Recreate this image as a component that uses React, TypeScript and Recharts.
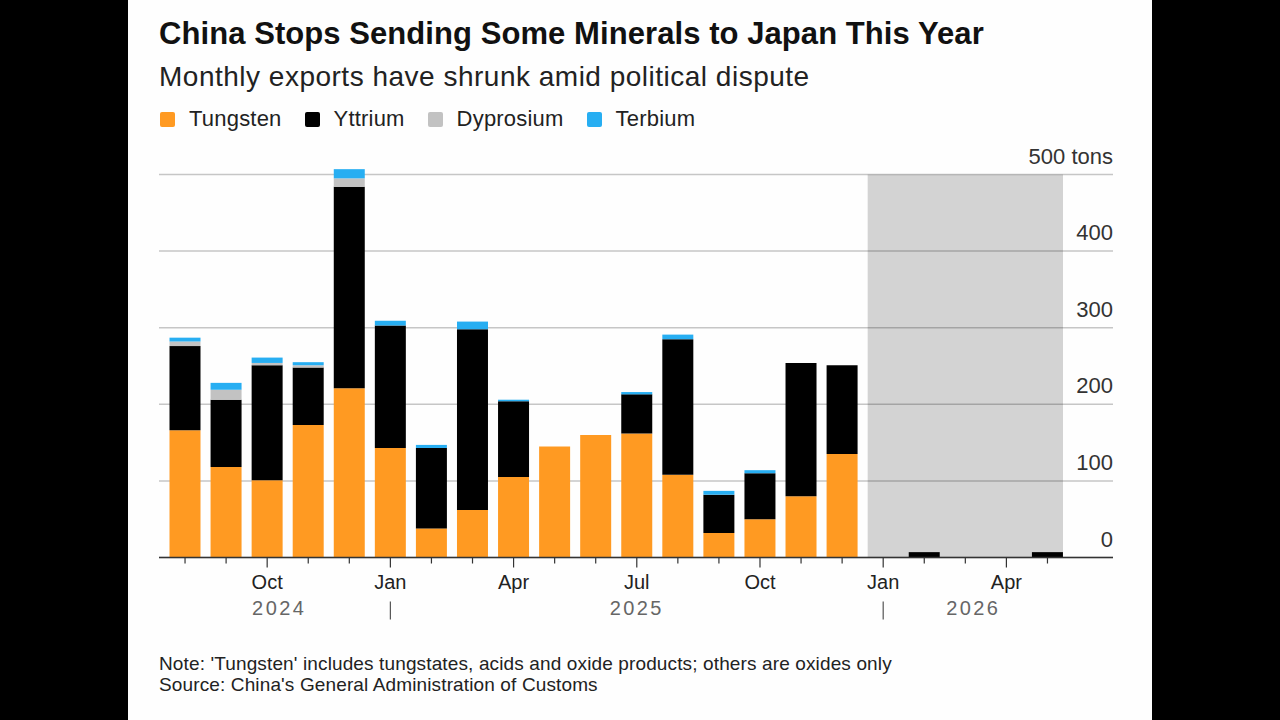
import { BarChart, Bar, XAxis, YAxis, CartesianGrid, ReferenceArea, Legend } from 'recharts';

const months = [
  'Aug 2024', 'Sep 2024', 'Oct 2024', 'Nov 2024', 'Dec 2024',
  'Jan 2025', 'Feb 2025', 'Mar 2025', 'Apr 2025', 'May 2025', 'Jun 2025', 'Jul 2025',
  'Aug 2025', 'Sep 2025', 'Oct 2025', 'Nov 2025', 'Dec 2025',
  'Jan 2026', 'Feb 2026', 'Mar 2026', 'Apr 2026', 'May 2026',
];
const tungsten = [166, 118, 101, 173, 221, 143, 38, 62, 105, 145, 160, 162, 108, 32, 50, 80, 135, 0, 0, 0, 0, 0];
const yttrium = [110, 88, 150, 75, 263, 160, 105, 236, 99, 0, 0, 51, 177, 50, 60, 174, 116, 0, 7, 0, 0, 7];
const dyprosium = [6, 13, 3, 3, 11, 0, 0, 0, 0, 0, 0, 0, 0, 0, 0, 0, 0, 0, 0, 0, 0, 0];
const terbium = [5, 9, 7, 4, 12, 6, 4, 10, 2, 0, 0, 3, 6, 5, 4, 0, 0, 0, 0, 0, 0, 0];
const yTicks = [0, 100, 200, 300, 400, 500];
const quarterMonths = ['Oct', 'Jan', 'Apr', 'Jul'];

const data = months.map((month, i) => ({
  month,
  tungsten: tungsten[i],
  yttrium: yttrium[i],
  dyprosium: dyprosium[i],
  terbium: terbium[i],
}));

const FONT = '"Liberation Sans", Arial, sans-serif';
const BAR_WIDTH = 31;
const BAND_INSET = 5;

// Year captions hang off one month tick each, nudged to the middle of their span
const yearCaptions: Record<string, { label: string; dx: number }> = {
  'Oct 2024': { label: '2024', dx: 12 },
  'Jul 2025': { label: '2025', dx: 0 },
  'Mar 2026': { label: '2026', dx: 8 },
};

const MonthTick = ({ x, y, payload }: any) => {
  const [name, year] = payload.value.split(' ');
  const isQuarter = quarterMonths.includes(name);
  const caption = yearCaptions[payload.value];
  return (
    <g>
      <line x1={x} x2={x} y1={y} y2={y + (isQuarter ? 10 : 6)} stroke="#333" strokeWidth={1.2} />
      {isQuarter && (
        <text x={x} y={y + 31} textAnchor="middle" fontSize={20} fontFamily={FONT} fill="#222">
          {name}
        </text>
      )}
      {name === 'Jan' && year !== '2024' && (
        <line x1={x} x2={x} y1={y + 44} y2={y + 62} stroke="#555" strokeWidth={1.2} />
      )}
      {caption && (
        <text
          x={x + caption.dx}
          y={y + 57}
          textAnchor="middle"
          fontSize={20}
          letterSpacing={2.4}
          fontFamily={FONT}
          fill="#666"
        >
          {caption.label}
        </text>
      )}
    </g>
  );
};

const TonsTick = ({ x, y, payload }: any) => (
  <text x={x} y={y - 11} textAnchor="end" fontSize={22} fontFamily={FONT} fill="#333">
    {payload.value === 500 ? '500 tons' : payload.value}
  </text>
);

// Shaded span runs from the first bar edge to the last, not the band edges
const ShadeArea = ({ x, y, width, height }: any) => (
  <rect
    x={x + BAND_INSET}
    y={y}
    width={width - BAND_INSET * 2}
    height={height}
    fill="#000"
    fillOpacity={0.17}
  />
);

const renderLegend = ({ payload }: any) => (
  <div style={{ display: 'flex', height: 24, alignItems: 'center', fontFamily: FONT, fontSize: 22, letterSpacing: 0.2, color: '#222' }}>
    {payload.map((entry: any) => (
      <span key={entry.value} style={{ display: 'flex', alignItems: 'center', marginRight: 23 }}>
        <span
          style={{
            width: 15,
            height: 15,
            borderRadius: 2,
            marginRight: 14,
            backgroundColor: entry.color,
          }}
        />
        {entry.value}
      </span>
    ))}
  </div>
);

export default function App() {
  return (
    <div style={{ position: 'absolute', left: 0, top: 0, width: 1280, height: 720, background: '#000', overflow: 'hidden' }}>
      <div style={{ position: 'absolute', left: 128, top: 0, width: 1024, height: 720, background: '#fefefe' }}>
        <div style={{ position: 'absolute', left: 31, top: 16, fontFamily: FONT, fontWeight: 700, fontSize: 31, letterSpacing: 0.07, color: '#111', whiteSpace: 'nowrap' }}>
          China Stops Sending Some Minerals to Japan This Year
        </div>
        <div style={{ position: 'absolute', left: 31, top: 61, fontFamily: FONT, fontSize: 28, letterSpacing: 0.5, color: '#222', whiteSpace: 'nowrap' }}>
          Monthly exports have shrunk amid political dispute
        </div>
        <BarChart
          width={1024}
          height={720}
          data={data}
          margin={{ top: 159.2, right: 38, bottom: 82.5, left: 31 }}
          barCategoryGap={0}
        >
          <CartesianGrid horizontal vertical={false} syncWithTicks stroke="#c6c6c6" strokeWidth={1.5} />
          <XAxis
            dataKey="month"
            interval={0}
            height={80}
            padding={{ left: 5.5, right: 45 }}
            axisLine={{ stroke: '#333', strokeWidth: 1.5 }}
            tickLine={false}
            tickSize={0}
            tickMargin={0}
            tick={<MonthTick />}
          />
          <YAxis
            orientation="right"
            width={1}
            domain={[0, 520]}
            ticks={yTicks}
            interval={0}
            axisLine={false}
            tickLine={false}
            tickSize={0}
            tickMargin={0}
            tick={<TonsTick />}
          />
          <ReferenceArea x1="Jan 2026" x2="May 2026" y1={0} y2={500} ifOverflow="visible" shape={<ShadeArea />} />
          <Legend
            verticalAlign="top"
            itemSorter={null}
            content={renderLegend}
            wrapperStyle={{ position: 'absolute', top: 107, left: 32, height: 0, width: 800 }}
          />
          <Bar dataKey="tungsten" name="Tungsten" stackId="a" fill="#ff9a22" barSize={BAR_WIDTH} isAnimationActive={false} />
          <Bar dataKey="yttrium" name="Yttrium" stackId="a" fill="#000000" barSize={BAR_WIDTH} isAnimationActive={false} />
          <Bar dataKey="dyprosium" name="Dyprosium" stackId="a" fill="#c2c2c2" barSize={BAR_WIDTH} isAnimationActive={false} />
          <Bar dataKey="terbium" name="Terbium" stackId="a" fill="#27aef2" barSize={BAR_WIDTH} isAnimationActive={false} />
        </BarChart>
        <div style={{ position: 'absolute', left: 31, top: 653, fontFamily: FONT, fontSize: 19, letterSpacing: 0.13, lineHeight: '21px', color: '#222', whiteSpace: 'nowrap' }}>
          Note: 'Tungsten' includes tungstates, acids and oxide products; others are oxides only
          <br />
          Source: China's General Administration of Customs
        </div>
      </div>
    </div>
  );
}
